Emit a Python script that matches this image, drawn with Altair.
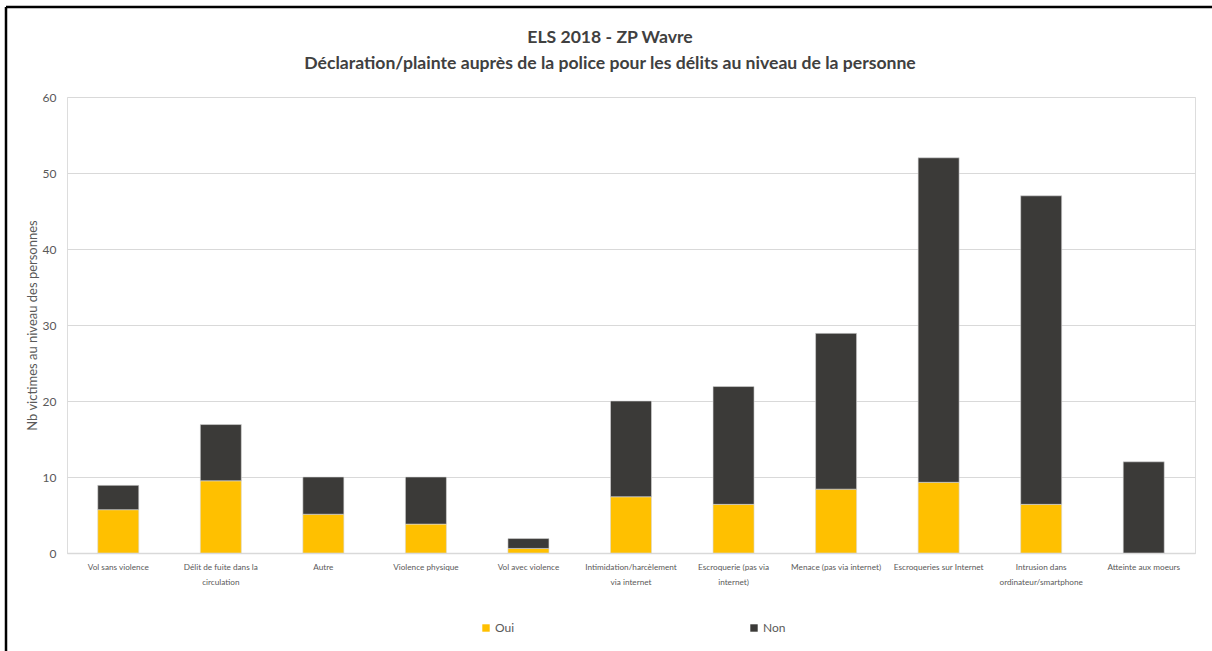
import altair as alt
import pandas as pd

# Offences (label lines separated by "\n")
categories = [
    "Vol sans violence",
    "Délit de fuite dans la\ncirculation",
    "Autre",
    "Violence physique",
    "Vol avec violence",
    "Intimidation/harcèlement\nvia internet",
    "Escroquerie (pas via\ninternet)",
    "Menace (pas via internet)",
    "Escroqueries sur Internet",
    "Intrusion dans\nordinateur/smartphone",
    "Atteinte aux moeurs",
]
oui = [5.7, 9.5, 5.1, 3.8, 0.6, 7.4, 6.4, 8.4, 9.3, 6.4, 0.0]
non = [3.2, 7.4, 4.9, 6.2, 1.3, 12.6, 15.5, 20.5, 42.7, 40.6, 12.0]
series = ["Oui", "Non"]
colors = ["#FFC000", "#3B3A38"]

rows = []
for cat, o, n in zip(categories, oui, non):
    rows.append({"cat": cat, "serie": "Oui", "rank": 0, "val": o})
    rows.append({"cat": cat, "serie": "Non", "rank": 1, "val": n})
df = pd.DataFrame(rows)

FONT = "Lato"
GREY = "#595959"

bars = alt.Chart(df).mark_bar(stroke="#d8d8d8", strokeWidth=0.6).encode(
    x=alt.X(
        "cat:N",
        sort=categories,
        scale=alt.Scale(paddingInner=0.6, paddingOuter=0.3),
        axis=alt.Axis(
            title=None,
            labelAngle=0,
            labelExpr="split(datum.label, '\\n')",
            labelFontSize=8.2,
            labelColor=GREY,
            labelFont=FONT,
            labelLineHeight=15,
            labelPadding=10,
            labelLimit=200,
            ticks=False,
            domainColor="#d9d9d9",
            domainWidth=1.5,
            grid=False,
        ),
    ),
    y=alt.Y(
        "val:Q",
        stack="zero",
        scale=alt.Scale(domain=[0, 60], nice=False),
        axis=alt.Axis(
            title="Nb victimes au niveau des personnes",
            values=[0, 10, 20, 30, 40, 50, 60],
            titleFont=FONT,
            titleFontSize=13,
            titleFontWeight="normal",
            titleColor=GREY,
            titlePadding=3,
            labelFont=FONT,
            labelFontSize=12,
            labelColor=GREY,
            labelPadding=11,
            ticks=False,
            domain=False,
            gridColor="#d9d9d9",
            gridWidth=1,
        ),
    ),
    color=alt.Color(
        "serie:N",
        scale=alt.Scale(domain=series, range=colors),
        legend=alt.Legend(
            title=None,
            orient="none",
            direction="horizontal",
            legendX=413,
            legendY=525,
            symbolType="square",
            symbolSize=55,
            symbolStrokeWidth=0,
            labelFont=FONT,
            labelFontSize=12,
            labelColor=GREY,
            labelOffset=3,
            columnPadding=233,
        ),
    ),
    order=alt.Order("rank:Q", sort="ascending"),
)

# Outer frame (top and left edges)
one = pd.DataFrame({"a": [0]})
frame_top = alt.Chart(one).mark_rule(color="#000000", strokeWidth=2.5).encode(
    x=alt.value(-61), x2=alt.value(1145), y=alt.value(-90)
)
frame_left = alt.Chart(one).mark_rule(color="#000000", strokeWidth=2.5).encode(
    x=alt.value(-61), y=alt.value(-90), y2=alt.value(554)
)

chart = (
    alt.layer(bars, frame_top, frame_left)
    .properties(
        width=1128,
        height=456,
        title=alt.TitleParams(
            text=["ELS 2018 - ZP Wavre",
                  "Déclaration/plainte auprès de la police pour les délits au niveau de la personne"],
            font=FONT,
            fontSize=17.6,
            fontWeight="bold",
            color="#404040",
            lineHeight=26,
            anchor="middle",
            dx=-21,
            offset=-67,
        ),
        autosize=alt.AutoSizeParams(type="none"),
        padding={"left": 67, "top": 97, "right": 17, "bottom": 98},
    )
    .configure_view(stroke=None)
    .configure(background="white")
)

chart.save("out.html", embed_options={"renderer": "svg", "actions": False})
